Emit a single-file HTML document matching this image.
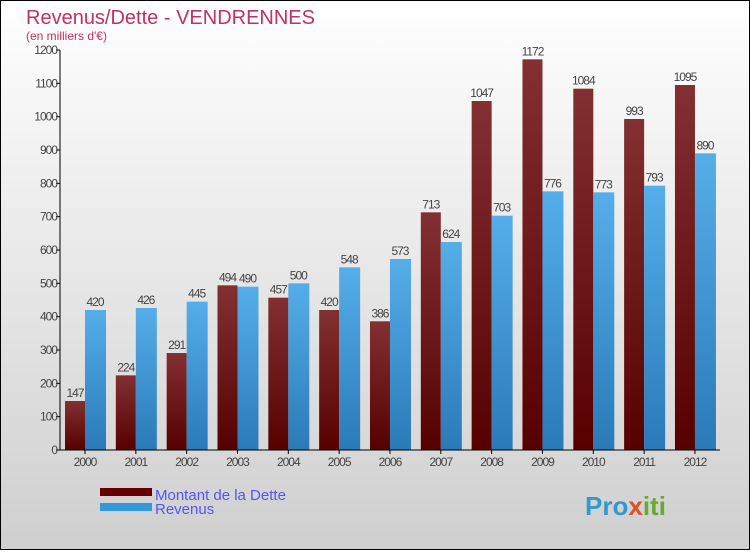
<!DOCTYPE html>
<html><head><meta charset="utf-8"><style>
body{margin:0;font-family:"Liberation Sans",sans-serif}
svg text{font-family:"Liberation Sans",sans-serif}
</style></head><body>
<svg width="750" height="550" viewBox="0 0 750 550" xmlns="http://www.w3.org/2000/svg">
<defs>
<linearGradient id="bg" x1="0" y1="0" x2="0" y2="1"><stop offset="0" stop-color="#ffffff"/><stop offset="1" stop-color="#cfcfcf"/></linearGradient>
<linearGradient id="gd" x1="0" y1="0" x2="0" y2="1"><stop offset="0" stop-color="#833033"/><stop offset="1" stop-color="#560000"/></linearGradient>
<linearGradient id="gr" x1="0" y1="0" x2="0" y2="1"><stop offset="0" stop-color="#55aee9"/><stop offset="1" stop-color="#2a7ab8"/></linearGradient>
</defs>
<rect x="0.5" y="0.5" width="749" height="549" fill="url(#bg)" stroke="#000"/>
<text x="26" y="24" font-size="20" fill="#c0325f">Revenus/Dette - VENDRENNES</text>
<text x="26" y="40" font-size="12" fill="#c0325f">(en milliers d'€)</text>
<g id="plot"></g>
<g>
<rect x="100" y="488" width="52" height="8" fill="#660000"/>
<text x="155" y="500" font-size="15" fill="#5555ee">Montant de la Dette</text>
<rect x="100" y="503" width="52" height="8" fill="#3399dd"/>
<text x="155" y="514" font-size="15" fill="#5555ee">Revenus</text>
</g>
<text x="585" y="515" font-size="26" font-weight="bold" fill="#3399cc">Pro<tspan fill="#e05020">x</tspan><tspan fill="#66aa33">iti</tspan></text>
</svg>
<script>
const years=["2000","2001","2002","2003","2004","2005","2006","2007","2008","2009","2010","2011","2012"];
const dette=[147,224,291,494,457,420,386,713,1047,1172,1084,993,1095];
const revenus=[420,426,445,490,500,548,573,624,703,776,773,793,890];
const yTicks=[0,100,200,300,400,500,600,700,800,900,1000,1100,1200];
const NS="http://www.w3.org/2000/svg";
const g=document.getElementById('plot');
const x0=60,y0=450,yTop=50,step=50.83,c0=85,bw=20;
const y=v=>y0-(v/1200)*(y0-yTop);
const xc=i=>c0+i*step;
function mk(t,a,txt){const e=document.createElementNS(NS,t);for(const k in a)e.setAttribute(k,a[k]);if(txt!==undefined)e.textContent=txt;g.appendChild(e);return e;}
yTicks.forEach(v=>{
 const l=mk('line',{x1:x0-4,x2:x0,y1:y(v),y2:y(v),stroke:'#000'});
 
 
 const t=mk('text',{x:x0-3,y:y(v)+4,'font-size':12,'text-anchor':'end',fill:'#444','letter-spacing':'-1'},v);
 
 
});
years.forEach((yr,i)=>{
 const c=xc(i);
 const b1=mk('rect',{x:c-bw,y:y(dette[i]),width:bw,height:y0-y(dette[i]),fill:'url(#gd)'});
 
 
 const b2=mk('rect',{x:c,y:y(revenus[i]),width:bw+1,height:y0-y(revenus[i]),fill:'url(#gr)'});
 
 
 const t1=mk('text',{x:c-bw/2,y:y(dette[i])-4,'font-size':12,'text-anchor':'middle',fill:'#444','letter-spacing':'-1'},dette[i]);
 
 
 const t2=mk('text',{x:c+bw/2,y:y(revenus[i])-4,'font-size':12,'text-anchor':'middle',fill:'#444','letter-spacing':'-1'},revenus[i]);
 
 
 const tk=mk('line',{x1:c,x2:c,y1:y0,y2:y0+4,stroke:'#000'});
 
 
 const xl=mk('text',{x:c,y:y0+16,'font-size':12,'text-anchor':'middle',fill:'#444','letter-spacing':'-1'},yr);
 
 
});
const ya=mk('line',{x1:x0,x2:x0,y1:yTop,y2:y0,stroke:'#000'});


const xa=mk('line',{x1:x0,x2:x0+12*step+50,y1:y0,y2:y0,stroke:'#000'});


</script>
</body></html>
